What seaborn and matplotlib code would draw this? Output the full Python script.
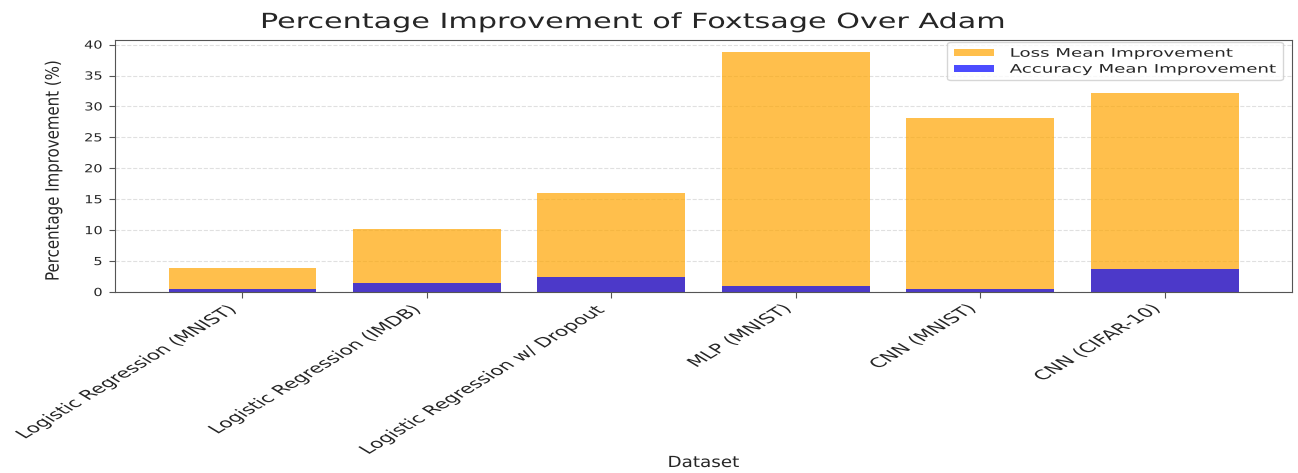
import matplotlib
matplotlib.use("Agg")
import matplotlib.pyplot as plt
import seaborn as sns
import pandas as pd
from matplotlib.patheffects import AbstractPathEffect
from matplotlib.transforms import Affine2D

datasets = ["Logistic Regression (MNIST)", "Logistic Regression (IMDB)",
            "Logistic Regression w/ Dropout", "MLP (MNIST)", "CNN (MNIST)", "CNN (CIFAR-10)"]
loss_improvement = [3.94, 10.15, 16.0, 38.8, 28.2, 32.2]
accuracy_improvement = [0.5, 1.5, 2.35, 1.05, 0.45, 3.65]
y_ticks = [0, 5, 10, 15, 20, 25, 30, 35, 40]

df = pd.DataFrame({"Dataset": datasets, "Loss": loss_improvement, "Accuracy": accuracy_improvement})


class Stretch(AbstractPathEffect):
    """Scale the drawn glyphs/paths about an anchor point given in display coords."""
    def __init__(self, anchor_fn, sx=1.0, sy=1.0):
        super().__init__()
        self.anchor_fn = anchor_fn
        self.sx = sx
        self.sy = sy

    def draw_path(self, renderer, gc, tpath, affine, rgbFace=None):
        cx, cy = self.anchor_fn()
        st = Affine2D().translate(-cx, -cy).scale(self.sx, self.sy).translate(cx, cy)
        renderer.draw_path(gc, tpath, affine + st, rgbFace)


def text_anchor(t):
    return lambda: t.get_transform().transform(t.get_unitless_position())


def stretch_text(t, sx, sy=1.0):
    t.set_path_effects([Stretch(text_anchor(t), sx, sy)])


sns.set_style("white")
fig = plt.figure(figsize=(12.98, 4.73), dpi=100)
ax = fig.add_axes([115 / 1298, 1 - 292 / 473, 1177 / 1298, 252 / 473])

sns.barplot(data=df, x="Dataset", y="Loss", color="orange", alpha=0.7, saturation=1,
            width=0.8, linewidth=0, label="Loss Mean Improvement", ax=ax)
sns.barplot(data=df, x="Dataset", y="Accuracy", color="blue", alpha=0.7, saturation=1,
            width=0.8, linewidth=0, label="Accuracy Mean Improvement", ax=ax)

n = len(datasets)
ax.set_xlim(-0.69, n - 1 + 0.69)
ax.set_yticks(y_ticks)
ax.yaxis.grid(True, linestyle="--", color="#cccccc", alpha=0.6)
ax.set_axisbelow(True)
for s in ax.spines.values():
    s.set_color("#555555")

ax.tick_params(axis="y", labelsize=8, length=4, left=True, pad=5, color="#555555")
ax.tick_params(axis="x", labelsize=9.5, length=4, bottom=True, color="#555555")
ax.set_xticks(range(n))
ax.set_xticklabels(datasets, rotation=45, ha="right")
for t in ax.get_xticklabels():
    stretch_text(t, 1.65, 1.0)
for t in ax.get_yticklabels():
    stretch_text(t, 1.3, 1.0)

ttl = ax.set_title("Percentage Improvement of Foxtsage Over Adam", fontsize=15,
                   x=(633 - 115) / 1177, y=1 + 12 / 252, pad=0)
stretch_text(ttl, 1.45, 1.0)

ax.set_xlabel("Dataset", fontsize=11)
ax.xaxis.set_label_coords(0.5, -(455 - 292) / 252)
ax.xaxis.label.set_va("top")
stretch_text(ax.xaxis.label, 1.2, 1.0)

ax.set_ylabel("Percentage Improvement (%)", fontsize=12)
ax.yaxis.set_label_coords((63 - 115) / 1177, (292 - 171) / 252)
stretch_text(ax.yaxis.label, 1.1, 0.9)

leg = ax.legend(loc="upper right", bbox_to_anchor=((1283 - 115) / 1177, (292 - 42) / 252),
                fontsize=8.5, labelspacing=0.25, handlelength=2.2,
                handleheight=0.5, handletextpad=0.85, borderpad=0.4,
                borderaxespad=0, framealpha=0.8)


def leg_anchor():
    bb = leg.legendPatch.get_window_extent()
    return (bb.x1, bb.y1)


for art in [leg.legendPatch] + list(leg.legend_handles) + list(leg.get_texts()):
    art.set_path_effects([Stretch(leg_anchor, 1.54, 1.0)])

fig.savefig("out.png", dpi=100)
